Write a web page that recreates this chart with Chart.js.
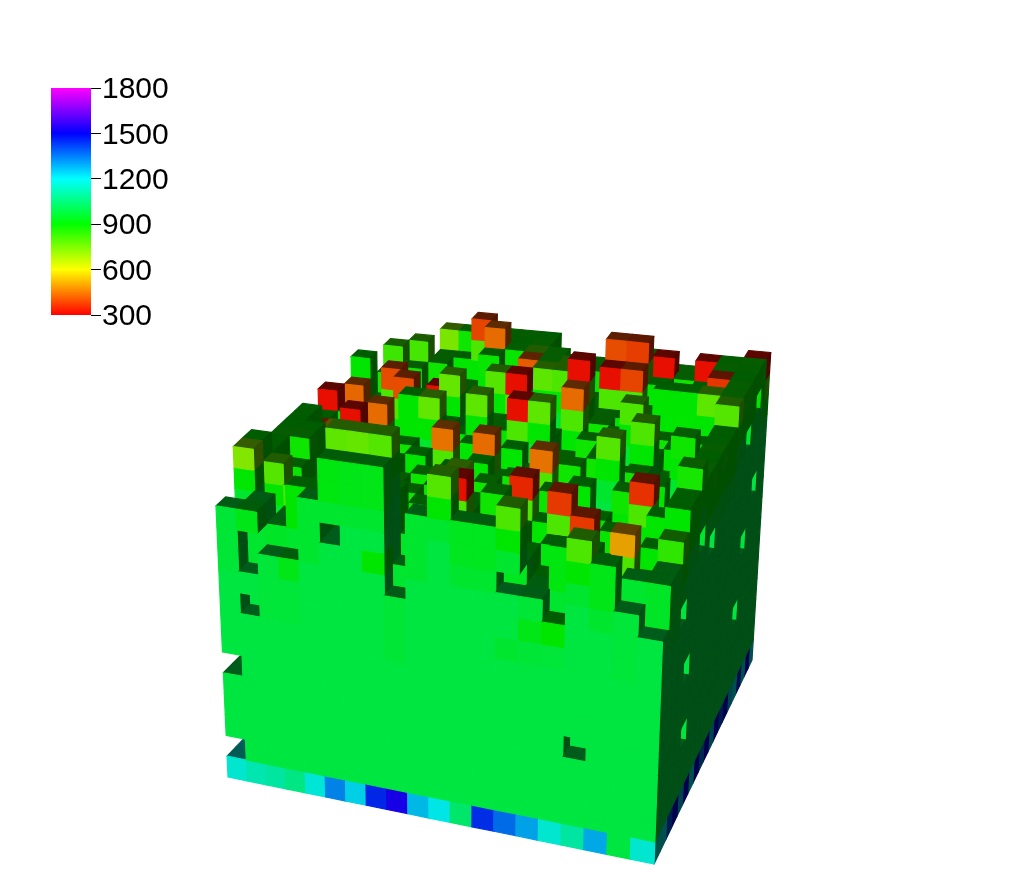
<!DOCTYPE html>
<html>
<head>
<meta charset="utf-8">
<title>Voxels</title>
<script src="https://cdn.jsdelivr.net/npm/chart.js@4"></script>
<style>
  html, body { margin: 0; background: #fff; }
  #voxels { position: absolute; left: 0; top: 0; }
  #legend { position: absolute; left: 30px; top: 60px; }
</style>
</head>
<body>
<canvas id="voxels" width="1024" height="874"></canvas>
<canvas id="legend" width="141" height="285"></canvas>
<script>
// colour bar
const legendTicks = [300, 600, 900, 1200, 1500, 1800];
const legendColors = [[255,0,0],[255,255,0],[0,255,0],[0,255,255],[0,0,255],[255,0,255]];

// column heights, one row per depth j (front to back), i goes left to right
const heights = [
  [13,13,11,11,14,16,16,16,10,14,16,14,14,15,11,10,14,13,11,10],
  [10,13,12,14,14,17,17,17,11,12,11,12,15,12,11,13,13,11,12,12],
  [15,10,12,13,14,15,13,14,12,13,15,12,13,12,11,12,12,11,11,12],
  [15,14,13,11,12,13,14,12,13,12,13,11,13,11,12,12,11,13,11,13],
  [14,12,11,13,12,14,11,13,12,11,13,12,12,11,14,13,11,11,12,14],
  [14,13,12,10,12,12,13,11,13,14,11,12,14,12,11,11,12,11,13,14],
  [14,14,11,12,13,11,12,13,11,12,13,11,12,13,11,12,11,14,12,15],
  [14,14,12,11,10,13,11,12,13,11,12,13,11,12,13,11,13,11,12,14],
  [14,12,13,12,11,12,13,11,12,13,11,12,14,11,12,15,12,13,11,14],
  [14,13,11,13,12,13,12,14,11,14,12,11,12,13,12,11,13,11,15,14],
  [13,13,14,12,13,15,15,12,13,12,13,12,11,12,13,12,15,12,13,14],
  [13,12,13,14,12,13,12,13,15,12,15,15,12,11,13,12,13,12,12,14],
  [14,13,12,13,15,12,13,12,13,13,12,13,12,13,12,15,12,13,12,14],
  [11,14,13,15,12,13,15,12,13,13,12,12,15,12,13,12,13,12,13,15],
  [1,15,13,13,13,14,12,13,15,15,13,12,16,13,12,13,15,15,15,15],
  [1,1,14,13,13,12,13,13,13,14,15,15,13,13,13,13,13,13,13,15],
  [1,1,15,14,12,13,13,15,13,15,15,15,13,15,15,13,14,13,15,15],
  [1,1,1,15,14,13,13,16,15,15,15,14,13,16,16,14,13,14,15,15],
  [1,1,1,1,14,14,16,15,15,15,14,14,14,15,15,15,14,15,15,15],
  [1,1,1,1,15,15,15,15,15,15,14,14,14,14,14,14,14,14,14,15]
];

// value of the top voxel of each column
const topValues = [
  [970,960,975,975,960,920,930,930,970,960,790,940,940,800,970,900,800,930,975,985],
  [960,960,950,900,900,780,770,790,960,950,950,950,880,940,950,920,920,950,960,950],
  [730,950,950,900,900,900,900,900,950,900,320,880,880,900,900,920,900,900,950,950],
  [900,790,790,900,900,900,900,900,900,900,900,880,880,920,920,900,880,510,900,840],
  [900,900,880,900,900,880,880,880,900,900,890,880,880,890,375,375,900,900,900,900],
  [900,890,900,900,880,900,880,880,890,760,900,900,350,900,900,880,890,900,900,900],
  [880,880,860,900,900,890,900,880,900,900,880,880,900,890,870,900,900,365,900,870],
  [900,900,880,890,900,900,880,900,900,890,900,880,900,880,900,900,880,900,890,900],
  [900,900,890,900,880,900,900,880,880,900,880,900,450,900,880,790,900,900,900,880],
  [890,900,900,880,900,880,900,450,900,440,880,900,900,880,900,890,880,900,880,900],
  [390,560,320,900,880,900,770,880,900,880,900,880,900,900,880,900,800,880,900,880],
  [900,890,880,440,880,900,880,900,780,880,320,780,880,900,890,880,900,880,900,900],
  [320,900,900,900,400,880,900,880,890,900,880,900,880,880,900,800,880,900,880,900],
  [900,435,890,400,900,880,770,900,880,900,890,880,440,900,880,900,880,890,900,790],
  [900,900,880,900,880,320,880,900,790,320,880,900,320,880,900,880,900,900,780,880],
  [900,900,880,890,900,880,900,880,900,880,780,800,900,880,900,880,900,880,900,880],
  [900,900,820,880,900,880,900,890,880,420,880,800,880,320,390,880,900,880,370,900],
  [900,900,900,810,880,900,880,440,890,790,880,900,880,400,380,900,880,900,880,890],
  [900,900,900,900,880,900,390,880,900,880,900,880,900,880,900,320,880,320,890,880],
  [900,900,900,900,740,880,900,890,880,900,880,900,880,890,880,900,880,900,880,320]
];

// voxels under the top one, by depth below it
const underHot = [0, 800, 900, 975, 985];
const underCool = [0, 900, 960, 985];

// the bottom layer, along the front and along the right side
const baseFront = [1170,1130,1110,1070,1180,1330,1230,1450,1530,1260,1200,1040,1440,1360,1290,1170,1110,1280,985,1170];
const baseRight = [1170,1200,1400,1500,1250,1500,1200,1500,1350,1500,1250,1500,1400,1500,1250,1200,1450,1200,1500,1200];

// missing voxels [i, j, k]
const holes = [
  [5,0,12],[5,1,12],[5,2,12],[1,0,11],[1,0,10],[1,0,8],[13,0,11],[16,0,4],
  [0,0,1],[0,1,1],[0,2,1],[0,0,5],[0,1,5],[0,2,5],[0,3,5],
  [19,4,3],[19,4,6],[19,3,9],[19,14,4],[19,15,7],[19,17,9],[19,6,11],[19,8,10],[19,15,12],[19,17,13]
];

// cells of the front wall that differ from the rest [i, k, value]
const wallCells = [[7,11,900],[14,9,930],[15,8,975],[15,7,985],[13,8,960],[1,12,930],[1,8,940],[3,10,930]];

// box corners on the page: [i, j, k] = 0 or 1
const corners = {
  "000": [228,777], "100": [654,864], "110": [752,660], "010": [378,620],
  "001": [209.5,360], "101": [671,420], "111": [777,250], "011": [373,215]
};
const gridSize = 20;
const layerSpan = 20;
const widenI = 1.12;
const widenJ = 0.82;

function warp(x, g) { return x / (x + (1 - x) * g); }
function lerp(a, b, t) { return [a[0] + (b[0] - a[0]) * t, a[1] + (b[1] - a[1]) * t]; }

function project(i, j, k) {
  const s = warp(i / gridSize, widenI);
  const t = warp(j / gridSize, widenJ);
  const u = k / layerSpan;
  const low = lerp(lerp(corners["000"], corners["100"], s), lerp(corners["010"], corners["110"], s), t);
  const high = lerp(lerp(corners["001"], corners["101"], s), lerp(corners["011"], corners["111"], s), t);
  const p = lerp(low, high, u);
  return { x: p[0], y: p[1] };
}

function occupied(i, j, k) {
  if (i < 0 || j < 0 || i >= gridSize || j >= gridSize || k < 0) return false;
  if (k >= heights[j][i]) return false;
  return !holes.some((h) => h[0] === i && h[1] === j && h[2] === k);
}

function voxelValue(i, j, k) {
  if (k === 0) return j === 0 ? baseFront[i] : (i === gridSize - 1 ? baseRight[j] : 1200);
  if (j === 0) {
    const cell = wallCells.find((c) => c[0] === i && c[1] === k);
    if (cell) return cell[2];
  }
  const depth = heights[j][i] - 1 - k;
  const top = topValues[j][i];
  if (depth === 0) return top;
  const under = top < 700 ? underHot : underCool;
  return Math.max(under[Math.min(depth, under.length - 1)], top);
}

function valueColor(v, shade) {
  let n = 0;
  while (n < legendTicks.length - 2 && v > legendTicks[n + 1]) n++;
  const t = (v - legendTicks[n]) / (legendTicks[n + 1] - legendTicks[n]);
  const c = legendColors[n].map((a, m) => (a + (legendColors[n + 1][m] - a) * t) * shade);
  return `rgb(${c[0]},${c[1]},${c[2]})`;
}

// faces back to front, four points each
const facePoints = [];
const faceColors = [];

function addFace(a, b, c, d, color) {
  facePoints.push(project(...a), project(...b), project(...c), project(...d));
  faceColors.push(color);
}

for (let j = gridSize - 1; j >= 0; j--) {
  for (let i = 0; i < gridSize; i++) {
    for (let k = 0; k < heights[j][i]; k++) {
      if (!occupied(i, j, k)) continue;
      const v = voxelValue(i, j, k);
      if (!occupied(i, j, k + 1)) {
        addFace([i,j,k+1], [i+1,j,k+1], [i+1,j+1,k+1], [i,j+1,k+1], valueColor(v, 0.36));
      }
      if (!occupied(i + 1, j, k)) {
        addFace([i+1,j,k], [i+1,j+1,k], [i+1,j+1,k+1], [i+1,j,k+1], valueColor(v, 0.31));
      }
      if (!occupied(i, j - 1, k)) {
        addFace([i,j,k], [i+1,j,k], [i+1,j,k+1], [i,j,k+1], valueColor(v, 0.9));
      }
    }
  }
}

const facePlugin = {
  id: "faces",
  afterDatasetsDraw(chart) {
    const ctx = chart.ctx;
    const pts = chart.getDatasetMeta(0).data;
    ctx.save();
    ctx.lineWidth = 1.2;
    ctx.lineJoin = "round";
    faceColors.forEach((color, f) => {
      ctx.beginPath();
      ctx.moveTo(pts[f * 4].x, pts[f * 4].y);
      for (let n = 1; n < 4; n++) ctx.lineTo(pts[f * 4 + n].x, pts[f * 4 + n].y);
      ctx.closePath();
      ctx.fillStyle = color;
      ctx.strokeStyle = color;
      ctx.fill();
      ctx.stroke();
    });
    ctx.restore();
  }
};

new Chart(document.getElementById("voxels"), {
  type: "scatter",
  data: { datasets: [{ data: facePoints, pointRadius: 0, showLine: false }] },
  options: {
    responsive: false,
    animation: false,
    plugins: { legend: { display: false }, tooltip: { enabled: false } },
    scales: {
      x: { type: "linear", min: 0, max: 1024, display: false },
      y: { type: "linear", min: 0, max: 874, reverse: true, display: false }
    }
  },
  plugins: [facePlugin]
});

new Chart(document.getElementById("legend"), {
  type: "bar",
  data: {
    labels: ["T"],
    datasets: [{
      data: [[legendTicks[0], legendTicks[legendTicks.length - 1]]],
      barPercentage: 1,
      categoryPercentage: 1,
      backgroundColor(c) {
        const area = c.chart.chartArea;
        if (!area) return "#000";
        const g = c.chart.ctx.createLinearGradient(0, area.bottom, 0, area.top);
        legendColors.forEach((col, n) => g.addColorStop(n / (legendColors.length - 1), `rgb(${col})`));
        return g;
      }
    }]
  },
  options: {
    responsive: false,
    animation: false,
    layout: { padding: { left: 21, top: 28, bottom: 30, right: 0 } },
    plugins: { legend: { display: false }, tooltip: { enabled: false } },
    scales: {
      x: { display: false },
      y: {
        position: "right",
        min: 300,
        max: 1800,
        afterFit(s) { s.width = 80; },
        border: { display: false },
        grid: { drawOnChartArea: false, drawTicks: true, tickLength: 10, color: "#000", lineWidth: 1 },
        ticks: {
          stepSize: 300,
          padding: 1,
          labelOffset: 2,
          color: "#000",
          crossAlign: "near",
          font: { family: "Liberation Sans", size: 30 },
          callback: (v) => String(v)
        }
      }
    }
  }
});
</script>
</body>
</html>
